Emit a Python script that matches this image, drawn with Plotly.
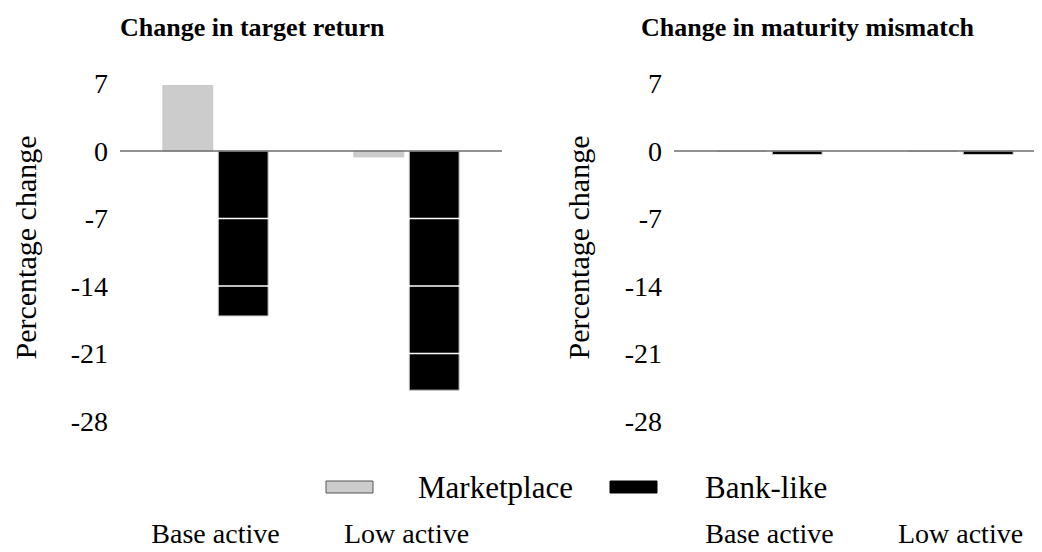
import plotly.graph_objects as go
from plotly.subplots import make_subplots

categories = ["Base active", "Low active"]
series_names = ["Marketplace", "Bank-like"]
target_marketplace = [6.8, -0.6]
target_banklike = [-17.1, -24.8]
mismatch_marketplace = [0.0, 0.0]
mismatch_banklike = [-0.35, -0.35]
panel_titles = ["Change in target return", "Change in maturity mismatch"]
y_tickvals = [7, 0, -7, -14, -21, -28]
y_ticktext = ["7", "0", "-7", "-14", "-21", "-28"]
y_title = "Percentage change"

FONT = "Liberation Serif, Times New Roman, serif"
colors = ["#cccccc", "#000000"]

fig = make_subplots(rows=1, cols=2, horizontal_spacing=0.05)

for col, (mvals, bvals) in enumerate(
    [(target_marketplace, target_banklike), (mismatch_marketplace, mismatch_banklike)], start=1
):
    for name, vals, c in zip(series_names, [mvals, bvals], colors):
        fig.add_trace(
            go.Bar(
                x=categories, y=vals, name=name,
                marker=dict(color=c, line=dict(color="#c8c8c8", width=1)),
                showlegend=False,
            ),
            row=1, col=col,
        )

OFF = 8  # page offset of the figure in the browser
L, T, B, R = 112, 66, 139, 0
W_FIG, H_FIG = 1042, 552
W_PLOT = float(W_FIG - L - R)
H_PLOT = float(H_FIG - T - B)

fig.update_layout(
    width=W_FIG, height=H_FIG,
    margin=dict(l=L, r=R, t=T, b=B, autoexpand=False),
    paper_bgcolor="white", plot_bgcolor="white",
    barmode="group", bargap=0.42, bargroupgap=0.1,
    font=dict(family=FONT, color="black"),
)

fig.update_layout(
    xaxis=dict(domain=[0, 382 / W_PLOT], range=[-0.5, 1.5]),
    xaxis2=dict(domain=[554 / W_PLOT, 1.0], range=[-0.5, -0.5 + (W_PLOT - 554) / 191]),
)

for col, standoff in ((1, 25), (2, 26)):
    fig.update_xaxes(
        row=1, col=col, showgrid=False, zeroline=False, showline=False,
        ticks="", tickfont=dict(size=28, family=FONT, color="black"),
        ticklabelstandoff=93, automargin=False,
    )
    fig.update_yaxes(
        row=1, col=col, range=[-28, 8], tickvals=y_tickvals, ticktext=y_ticktext,
        showgrid=False, zeroline=False, showline=False, ticks="",
        tickfont=dict(size=28, family=FONT, color="black"),
        ticklabelstandoff=11, automargin=False,
        title=dict(text=y_title, font=dict(size=30, family=FONT, color="black"), standoff=standoff),
    )

# gridlines drawn over the bars (white), zero line in gray
shapes = []
for xr, yr in (("x domain", "y"), ("x2 domain", "y2")):
    for v in y_tickvals:
        col_ = "#6e6e6e" if v == 0 else "white"
        shapes.append(dict(type="line", xref=xr, yref=yr, x0=0, x1=1, y0=v, y1=v,
                           line=dict(color=col_, width=1.5), layer="above"))

def px_x(p):
    return (p - OFF - L) / W_PLOT

def px_y(p):
    return (T + H_PLOT - (p - OFF)) / H_PLOT

# legend drawn manually
legend_items = [
    (326, 373, 416, series_names[0], colors[0], "#555555"),
    (610, 657, 703, series_names[1], colors[1], "#000000"),
]
annotations = []
for x0, x1, tx, name, fill, edge in legend_items:
    shapes.append(dict(type="rect", xref="paper", yref="paper",
                       x0=px_x(x0), x1=px_x(x1), y0=px_y(493), y1=px_y(481),
                       fillcolor=fill, line=dict(color=edge, width=1)))
    annotations.append(dict(text=name, xref="paper", yref="paper", x=px_x(tx), y=px_y(487),
                            xanchor="left", yanchor="middle", showarrow=False,
                            font=dict(size=31, family=FONT, color="black")))

for title, cx in zip(panel_titles, (252.5, 807.5)):
    annotations.append(dict(text="<b>" + title + "</b>", xref="paper", yref="paper",
                            x=px_x(cx), y=px_y(28), xanchor="center", yanchor="middle",
                            showarrow=False, font=dict(size=26, family=FONT, color="black")))

fig.update_layout(shapes=shapes, annotations=annotations)

fig.write_html("out.html")
